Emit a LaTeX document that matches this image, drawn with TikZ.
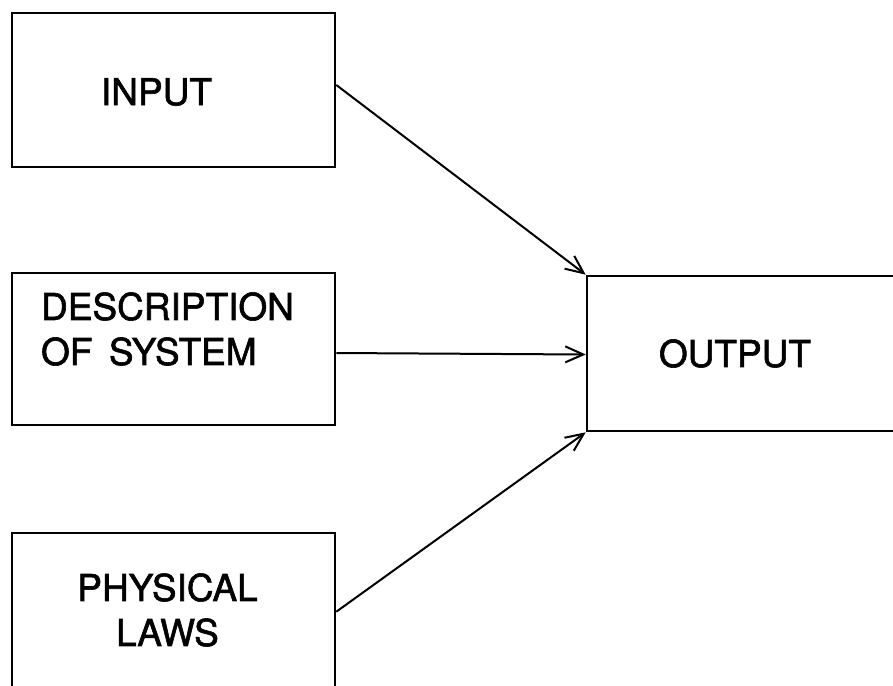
\documentclass[tikz,border=0pt]{standalone}
\usepackage{fontspec}
\setmainfont{TeX Gyre Heros}[FakeBold=1.6, WordSpace=1.6]
\usepackage{tikz}
\usetikzlibrary{arrows.meta}
\tikzset{
    box/.style={draw, line width=2.6pt, inner sep=0pt, minimum width=323pt},
    word/.style={font=\fontsize{37}{45}\selectfont, align=center}
}

\begin{document}
\begin{tikzpicture}[x=1pt, y=-1pt, >={Straight Barb[length=18pt,width=16pt,line width=2pt]}]
\useasboundingbox (0,0) rectangle (893,685);

% the three boxes on the left
\node[box, minimum height=154pt, label={[word, xshift=-17pt, yshift=-2pt]center:INPUT}] (in) at (173.5,90) {};
\node[box, minimum height=152pt, label={[word, align=left, xshift=-6pt, yshift=20pt]center:DESCRIPTION\\OF SYSTEM}] (desc) at (173.5,349) {};
\node[box, minimum height=200pt, label={[word, xshift=-6pt, yshift=23pt]center:PHYSICAL\\LAWS}] (phys) at (173.5,633) {};

% output box, runs off the right edge
\node[box, minimum width=360pt, minimum height=155pt, label={[word, xshift=-32pt]center:OUTPUT}] (out) at (767,353.5) {};

% arrows into output
\draw[->, line width=2pt] ([yshift=5pt]in.east) -- (out.north west);
\draw[->, line width=2pt] ([yshift=-4pt]desc.east) -- ([yshift=-1pt]out.west);
\draw[->, line width=2pt] ([yshift=-80pt]phys.north east) -- (out.south west);
\end{tikzpicture}
\end{document}
